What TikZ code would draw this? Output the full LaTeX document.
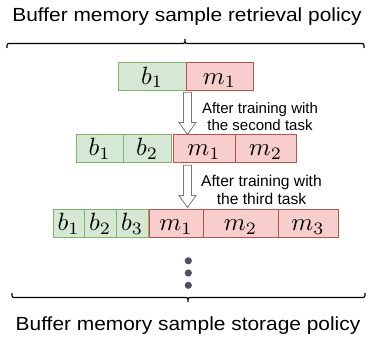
\RequirePackage{fix-cm}
\documentclass[tikz,border=0pt]{standalone}
\usepackage{fontspec}
\setmainfont{Liberation Sans}
\newfontfamily\titlefont[FakeStretch=1.1]{Liberation Sans}
\newcommand\cellmath[1]{\scalebox{2.5}{$#1$}}
\definecolor{gfill}{HTML}{D5E8D4}
\definecolor{gline}{HTML}{82B366}
\definecolor{rfill}{HTML}{F8CECC}
\definecolor{rline}{HTML}{B85450}
\definecolor{dotc}{HTML}{4A5163}
\definecolor{arrline}{HTML}{777777}
\begin{document}
\begin{tikzpicture}[x=1pt,y=-1pt,
  cell/.style={draw, line width=0.9pt, inner sep=0pt, minimum height=28pt,
    text height=21.5pt, text depth=6.5pt},
  gcell/.style={cell, draw=gline, fill=gfill},
  rcell/.style={cell, draw=rline, fill=rfill},
  titletext/.style={font=\titlefont\fontsize{19}{23}\selectfont, anchor=base, inner sep=0pt},
  smalltext/.style={font=\fontsize{15}{18}\selectfont, anchor=base, inner sep=0pt},
  bracestyle/.style={draw=black, line width=1.2pt},
  blockarrow/.style={draw=arrline, fill=white, line width=0.8pt, line join=miter},
  dotstyle/.style={circle, fill=dotc, inner sep=0pt, minimum size=7.2pt}
]
\useasboundingbox (0,0) rectangle (367,343);

% titles
\node[titletext] (ttop) at (187,21) {Buffer memory sample retrieval policy};
\node[titletext] (tbot) at (188,330) {Buffer memory sample storage policy};

% braces
\draw[bracestyle] (7,48) .. controls (7,43.5) .. (11,43.5) -- (181,43.5)
  .. controls (185,43.5) .. (185,39) .. controls (185,43.5) .. (189,43.5)
  -- (360,43.5) .. controls (364,43.5) .. (364,48);
\draw[bracestyle] (12,293) .. controls (12,297.5) .. (16,297.5) -- (184,297.5)
  .. controls (188,297.5) .. (188,302) .. controls (188,297.5) .. (192,297.5)
  -- (361,297.5) .. controls (365,297.5) .. (365,293);

% row 1
\node[gcell, minimum width=68pt] (r1b1) at (152,76.5) {\cellmath{b_1}};
\node[rcell, minimum width=67pt] (r1m1) at (219.5,76.5) {\cellmath{m_1}};

% row 2
\node[gcell, minimum width=47pt] (r2b1) at (99.5,148) {\cellmath{b_1}};
\node[gcell, minimum width=48pt] (r2b2) at (147,148) {\cellmath{b_2}};
\node[rcell, minimum width=62pt] (r2m1) at (204,148) {\cellmath{m_1}};
\node[rcell, minimum width=61pt] (r2m2) at (265.5,148) {\cellmath{m_2}};

% row 3
\node[gcell, minimum width=31pt] (r3b1) at (68.5,223) {\cellmath{b_1}};
\node[gcell, minimum width=32pt] (r3b2) at (100,223) {\cellmath{b_2}};
\node[gcell, minimum width=32pt] (r3b3) at (132,223) {\cellmath{b_3}};
\node[rcell, minimum width=54pt] (r3m1) at (176,223) {\cellmath{m_1}};
\node[rcell, minimum width=75pt] (r3m2) at (240.5,223) {\cellmath{m_2}};
\node[rcell, minimum width=60pt] (r3m3) at (308,223) {\cellmath{m_3}};

% block arrows
\coordinate (a1s) at (187.5,92.3);
\coordinate (a1e) at (187.5,134.5);
\coordinate (a2s) at (187.5,165.3);
\coordinate (a2e) at (187.5,207.5);
\draw[blockarrow] ([xshift=-4pt]a1s) -- ([xshift=4pt]a1s) -- ([xshift=4pt,yshift=12pt]a1e)
  -- ([xshift=8.5pt,yshift=12pt]a1e) -- (a1e) -- ([xshift=-8.5pt,yshift=12pt]a1e)
  -- ([xshift=-4pt,yshift=12pt]a1e) -- cycle;
\draw[blockarrow] ([xshift=-4pt]a2s) -- ([xshift=4pt]a2s) -- ([xshift=4pt,yshift=12pt]a2e)
  -- ([xshift=8.5pt,yshift=12pt]a2e) -- (a2e) -- ([xshift=-8.5pt,yshift=12pt]a2e)
  -- ([xshift=-4pt,yshift=12pt]a2e) -- cycle;

% arrow labels
\node[smalltext] (l1a) at (260,113.3) {After training with};
\node[smalltext] (l1b) at (260,130.5) {the second task};
\node[smalltext, font=\fontsize{15.6}{18}\selectfont] (l2a) at (261.5,186.7) {After training with};
\node[smalltext, font=\fontsize{15.6}{18}\selectfont] (l2b) at (261.5,204.8) {the third task};

% dots
\node[dotstyle] (d1) at (188.3,260.8) {};
\node[dotstyle] (d2) at (188.3,273) {};
\node[dotstyle] (d3) at (188.3,285.3) {};
\end{tikzpicture}
\end{document}
